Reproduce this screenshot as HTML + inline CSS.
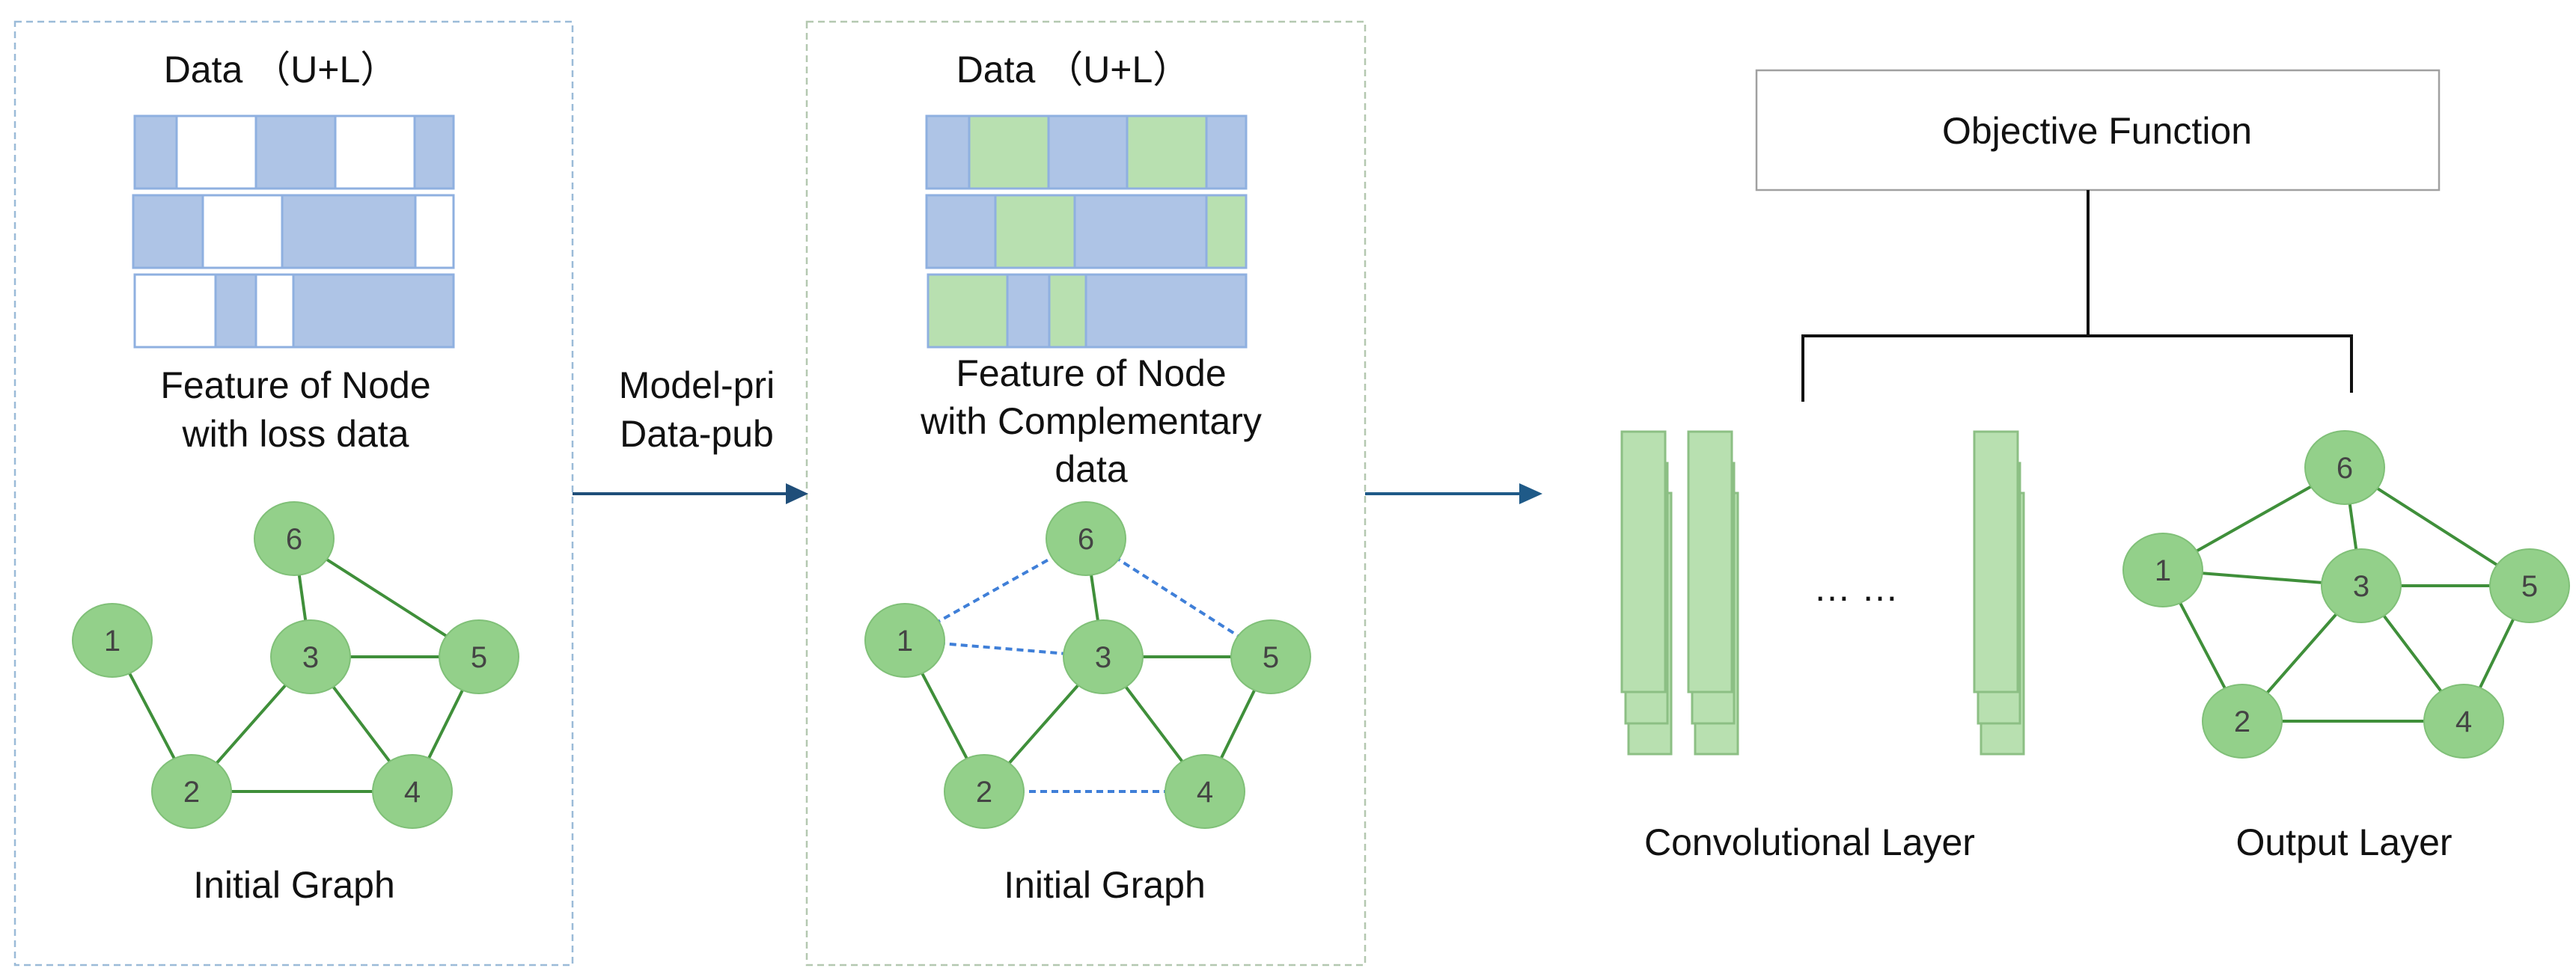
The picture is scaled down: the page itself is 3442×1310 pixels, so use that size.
<!DOCTYPE html>
<html><head><meta charset="utf-8"><style>
html,body{margin:0;padding:0;background:#fff}
svg{display:block}
text{font-family:"Liberation Sans",sans-serif}
</style></head><body>
<svg width="3442" height="1310" viewBox="0 0 3442 1310" xmlns="http://www.w3.org/2000/svg">
<!-- boxes -->
<rect x="20" y="29" width="745" height="1261" fill="none" stroke="#9bbbd8" stroke-width="2.5" stroke-dasharray="9,6"/>
<rect x="1078" y="29" width="746" height="1261" fill="none" stroke="#b4c8b0" stroke-width="2.5" stroke-dasharray="9,6"/>
<rect x="2347" y="94" width="912" height="160" fill="#fff" stroke="#a0a0a0" stroke-width="2.5"/>

<g font-size="50" fill="#111" text-anchor="middle">
<text x="375" y="110">Data （U+L）</text>
<text x="395" y="532">Feature of Node</text>
<text x="395" y="597">with loss data</text>
<text x="393" y="1200">Initial Graph</text>
<text x="931" y="532">Model-pri</text>
<text x="931" y="597">Data-pub</text>
<text x="1434" y="110">Data （U+L）</text>
<text x="1458" y="516">Feature of Node</text>
<text x="1458" y="580">with Complementary</text>
<text x="1458" y="644">data</text>
<text x="1476" y="1200">Initial Graph</text>
<text x="2802" y="192">Objective Function</text>
<text x="2418" y="1143">Convolutional Layer</text>
<text x="3132" y="1143">Output  Layer</text>
<text x="2480" y="803">…  …</text>
</g>

<!-- left bars -->
<g stroke="#8fb0e0" stroke-width="3">
<rect x="180" y="155" width="56" height="97" fill="#aec4e6"/>
<rect x="236" y="155" width="106" height="97" fill="#fff"/>
<rect x="342" y="155" width="106" height="97" fill="#aec4e6"/>
<rect x="448" y="155" width="106" height="97" fill="#fff"/>
<rect x="554" y="155" width="52" height="97" fill="#aec4e6"/>
<rect x="178" y="261" width="93" height="97" fill="#aec4e6"/>
<rect x="271" y="261" width="106" height="97" fill="#fff"/>
<rect x="377" y="261" width="178" height="97" fill="#aec4e6"/>
<rect x="555" y="261" width="51" height="97" fill="#fff"/>
<rect x="180" y="367" width="108" height="97" fill="#fff"/>
<rect x="288" y="367" width="54" height="97" fill="#aec4e6"/>
<rect x="342" y="367" width="50" height="97" fill="#fff"/>
<rect x="392" y="367" width="214" height="97" fill="#aec4e6"/>
</g>
<!-- middle bars -->
<g stroke="#8fb0e0" stroke-width="3">
<rect x="1238" y="155" width="57" height="97" fill="#aec4e6"/>
<rect x="1295" y="155" width="106" height="97" fill="#b8e0b0"/>
<rect x="1401" y="155" width="105" height="97" fill="#aec4e6"/>
<rect x="1506" y="155" width="106" height="97" fill="#b8e0b0"/>
<rect x="1612" y="155" width="53" height="97" fill="#aec4e6"/>
<rect x="1238" y="261" width="92" height="97" fill="#aec4e6"/>
<rect x="1330" y="261" width="106" height="97" fill="#b8e0b0"/>
<rect x="1436" y="261" width="176" height="97" fill="#aec4e6"/>
<rect x="1612" y="261" width="53" height="97" fill="#b8e0b0"/>
<rect x="1240" y="367" width="106" height="97" fill="#b8e0b0"/>
<rect x="1346" y="367" width="56" height="97" fill="#aec4e6"/>
<rect x="1402" y="367" width="49" height="97" fill="#b8e0b0"/>
<rect x="1451" y="367" width="214" height="97" fill="#aec4e6"/>
</g>

<!-- arrows -->
<g stroke="#1f4e79" stroke-width="4" fill="#1f4e79">
<line x1="765" y1="660" x2="1055" y2="660"/>
<polygon points="1050,646 1080,660 1050,674" stroke="none"/>
<line x1="1824" y1="660" x2="2035" y2="660" stroke="#1f5a88"/>
<polygon points="2030,646 2061,660 2030,674" fill="#1f5a88" stroke="none"/>
</g>

<g stroke="#111" stroke-width="4" fill="none">
<polyline points="2790,254 2790,449"/>
<polyline points="2409,537 2409,449 3142,449 3142,525"/>
</g>

<!-- conv layers -->
<g fill="#b8e0b0" stroke="#8cbf84" stroke-width="3">
<rect x="2176" y="659" width="57" height="349"/>
<rect x="2172" y="619" width="56" height="348"/>
<rect x="2167" y="577" width="58" height="348"/>
<rect x="2265" y="659" width="57" height="349"/>
<rect x="2261" y="619" width="56" height="348"/>
<rect x="2256" y="577" width="58" height="348"/>
<rect x="2647" y="659" width="57" height="349"/>
<rect x="2643" y="619" width="56" height="348"/>
<rect x="2638" y="577" width="58" height="348"/>
</g>

<!-- graph edges -->
<g stroke="#3f8f3a" stroke-width="4" fill="none">
<line x1="393" y1="720" x2="415" y2="878"/>
<line x1="393" y1="720" x2="640" y2="878"/>
<line x1="415" y1="878" x2="640" y2="878"/>
<line x1="150" y1="856" x2="256" y2="1058"/>
<line x1="256" y1="1058" x2="415" y2="878"/>
<line x1="415" y1="878" x2="551" y2="1058"/>
<line x1="256" y1="1058" x2="551" y2="1058"/>
<line x1="551" y1="1058" x2="640" y2="878"/>
<line x1="1451" y1="720" x2="1474" y2="878"/>
<line x1="1474" y1="878" x2="1698" y2="878"/>
<line x1="1209" y1="856" x2="1315" y2="1058"/>
<line x1="1315" y1="1058" x2="1474" y2="878"/>
<line x1="1474" y1="878" x2="1610" y2="1058"/>
<line x1="1610" y1="1058" x2="1698" y2="878"/>
<line x1="2890" y1="762" x2="3133" y2="625"/>
<line x1="3133" y1="625" x2="3155" y2="783"/>
<line x1="3133" y1="625" x2="3380" y2="783"/>
<line x1="2890" y1="762" x2="3155" y2="783"/>
<line x1="3155" y1="783" x2="3380" y2="783"/>
<line x1="2890" y1="762" x2="2996" y2="964"/>
<line x1="2996" y1="964" x2="3155" y2="783"/>
<line x1="3155" y1="783" x2="3292" y2="964"/>
<line x1="2996" y1="964" x2="3292" y2="964"/>
<line x1="3292" y1="964" x2="3380" y2="783"/>
</g>
<g stroke="#3f7fd8" stroke-width="4" stroke-dasharray="9,6" fill="none">
<line x1="1209" y1="856" x2="1451" y2="720"/>
<line x1="1451" y1="720" x2="1698" y2="878"/>
<line x1="1209" y1="856" x2="1474" y2="878"/>
<line x1="1315" y1="1058" x2="1610" y2="1058"/>
</g>

<!-- nodes -->
<g fill="#93d08a" stroke="#80c078" stroke-width="2">
<ellipse cx="393" cy="720" rx="53" ry="49"/>
<ellipse cx="150" cy="856" rx="53" ry="49"/>
<ellipse cx="415" cy="878" rx="53" ry="49"/>
<ellipse cx="640" cy="878" rx="53" ry="49"/>
<ellipse cx="256" cy="1058" rx="53" ry="49"/>
<ellipse cx="551" cy="1058" rx="53" ry="49"/>
<ellipse cx="1451" cy="720" rx="53" ry="49"/>
<ellipse cx="1209" cy="856" rx="53" ry="49"/>
<ellipse cx="1474" cy="878" rx="53" ry="49"/>
<ellipse cx="1698" cy="878" rx="53" ry="49"/>
<ellipse cx="1315" cy="1058" rx="53" ry="49"/>
<ellipse cx="1610" cy="1058" rx="53" ry="49"/>
<ellipse cx="3133" cy="625" rx="53" ry="49"/>
<ellipse cx="2890" cy="762" rx="53" ry="49"/>
<ellipse cx="3155" cy="783" rx="53" ry="49"/>
<ellipse cx="3380" cy="783" rx="53" ry="49"/>
<ellipse cx="2996" cy="964" rx="53" ry="49"/>
<ellipse cx="3292" cy="964" rx="53" ry="49"/>
</g>
<g font-size="40" fill="#444" text-anchor="middle">
<text x="393" y="734">6</text><text x="150" y="870">1</text><text x="415" y="892">3</text>
<text x="640" y="892">5</text><text x="256" y="1072">2</text><text x="551" y="1072">4</text>
<text x="1451" y="734">6</text><text x="1209" y="870">1</text><text x="1474" y="892">3</text>
<text x="1698" y="892">5</text><text x="1315" y="1072">2</text><text x="1610" y="1072">4</text>
<text x="3133" y="639">6</text><text x="2890" y="776">1</text><text x="3155" y="797">3</text>
<text x="3380" y="797">5</text><text x="2996" y="978">2</text><text x="3292" y="978">4</text>
</g>
</svg>
</body></html>
